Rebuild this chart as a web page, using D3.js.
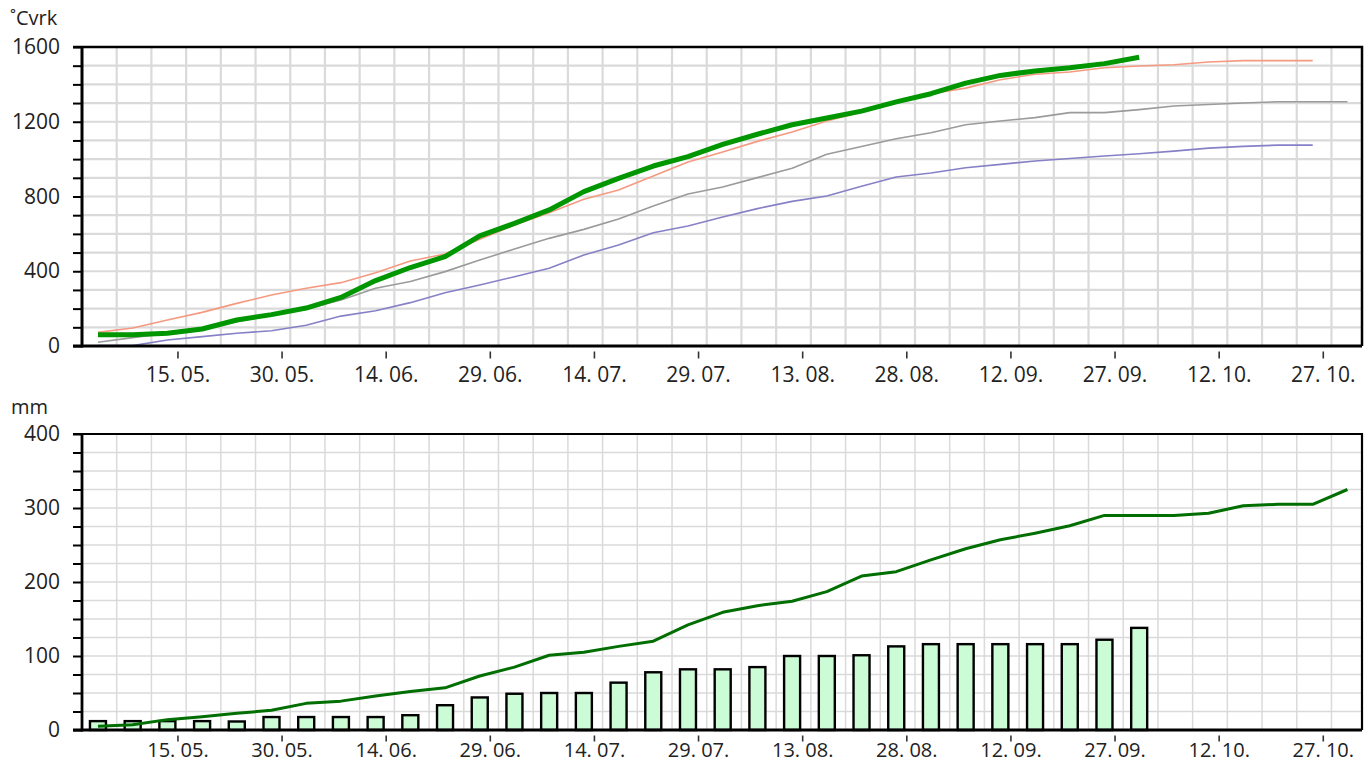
<!DOCTYPE html>
<html><head><meta charset="utf-8">
<script src="https://cdn.jsdelivr.net/npm/d3@7"></script>
<style>
body{margin:0;background:#fff;}
svg{display:block;}
text{font-family:"Open Sans",sans-serif;fill:#222;}
</style>
</head><body>
<svg id="c" width="1367" height="764"></svg>
<script>
// ---------- data (5‑day periods starting at season start) ----------
const gddCurrent = [60, 60, 68, 91, 139, 168, 203, 260, 350, 420, 478, 589, 656, 728, 826, 897, 963, 1013, 1079, 1133, 1184, 1220, 1257, 1306, 1350, 1407, 1448, 1472, 1489, 1511, 1545];
const gddWarm    = [73, 96, 139, 180, 228, 273, 309, 339, 392, 455, 492, 571, 647, 713, 785, 835, 910, 985, 1038, 1095, 1145, 1204, 1252, 1309, 1350, 1380, 1425, 1454, 1466, 1489, 1498, 1505, 1520, 1527, 1527, 1527];
const gddMean    = [20, 45, 68, 89, 130, 166, 198, 246, 309, 345, 398, 460, 519, 576, 624, 680, 749, 813, 851, 901, 951, 1026, 1068, 1109, 1141, 1184, 1204, 1222, 1249, 1249, 1265, 1284, 1292, 1300, 1307, 1307, 1307];
const gddCold    = [2, 2, 32, 50, 68, 82, 111, 160, 189, 232, 285, 326, 371, 416, 487, 540, 606, 642, 690, 735, 774, 803, 855, 904, 926, 954, 972, 990, 1003, 1017, 1029, 1043, 1059, 1068, 1075, 1075];
const precipBars = [12, 12, 12, 12, 11.5, 17.5, 17.5, 17.5, 17.5, 20, 33.5, 44, 49, 50, 50, 64, 78, 82, 82, 85, 100, 100, 101, 113, 116, 116, 116, 116, 116, 122, 138];
const precipLine = [5, 7, 14, 18, 22.5, 26.6, 36, 39, 46, 52, 57, 73, 85, 101, 105, 113, 120, 142, 159, 168, 174, 187, 208, 214, 230, 245, 257, 266, 276, 290, 290, 290, 293, 303, 305, 305, 325];
const tickDates  = ["2023-05-15","2023-05-30","2023-06-14","2023-06-29","2023-07-14","2023-07-29","2023-08-13","2023-08-28","2023-09-12","2023-09-27","2023-10-12","2023-10-27"];
const tickLabels = ["15. 05.","30. 05.","14. 06.","29. 06.","14. 07.","29. 07.","13. 08.","28. 08.","12. 09.","27. 09.","12. 10.","27. 10."];
const topYTicks = [0, 400, 800, 1200, 1600];
const botYTicks = [0, 100, 200, 300, 400];

(function () {
// ---------- setup ----------
const DAY = 864e5;
const start = new Date(Date.UTC(2023, 4, 1, 6));
const end = new Date(+start + 184.4 * DAY);
const pointDate = i => new Date(+start + (2.3 + 5 * i) * DAY);
const gridDates = d3.range(5, 184.4, 5).map(d => new Date(+start + d * DAY));

const svg = d3.select("#c");
const L = 82, R = 1362;
const x = d3.scaleUtc().domain([start, end]).range([L, R]);

function panel(cfg) {
  const y = d3.scaleLinear().domain([0, cfg.max]).range([cfg.bottom, cfg.top]);
  const g = svg.append("g");
  g.append("g").selectAll("line").data(d3.range(cfg.minor, cfg.max, cfg.minor)).join("line")
    .attr("x1", L).attr("x2", R).attr("y1", d => y(d)).attr("y2", d => y(d))
    .attr("stroke", "#dadada").attr("stroke-width", cfg.gw);
  g.append("g").selectAll("line").data(gridDates).join("line")
    .attr("x1", d => x(d)).attr("x2", d => x(d)).attr("y1", cfg.top).attr("y2", cfg.bottom)
    .attr("stroke", "#dadada").attr("stroke-width", cfg.gw);
  const ya = d3.axisLeft(y).tickValues(d3.range(0, cfg.max + 1, cfg.minor))
    .tickFormat(d => cfg.labels.includes(d) ? d : "").tickSize(9).tickPadding(13);
  const yg = g.append("g").attr("transform", `translate(${L},0)`).call(ya);
  yg.select(".domain").remove();
  yg.selectAll(".tick line").attr("stroke", "#000").attr("stroke-width", 2);
  yg.selectAll("text").attr("font-size", 21).attr("fill", "#222").style("font-family", '"Open Sans",sans-serif');
  const xa = d3.axisBottom(x).tickValues(tickDates.map(s => new Date(s + "T00:00:00Z")))
    .tickFormat((d, i) => tickLabels[i]).tickSize(cfg.xts).tickPadding(cfg.xtp);
  const xg = g.append("g").attr("transform", `translate(0,${cfg.bottom + 5.5})`).call(xa);
  xg.select(".domain").remove();
  xg.selectAll(".tick line").attr("stroke", "#333").attr("stroke-width", 1.6);
  xg.selectAll("text").attr("font-size", cfg.xfs).attr("fill", "#222").style("font-family", '"Open Sans",sans-serif');
  g.append("text").attr("x", cfg.ux).attr("y", cfg.uy).attr("font-size", 20).text(cfg.unit);
  return {g, y};
}

// ---------- top panel ----------
const tp = panel({max: 1600, minor: 100, labels: topYTicks, top: 47, bottom: 346, gw: 2.2, xts: 7, xtp: 9, xfs: 21, unit: "˚Cvrk", ux: 10, uy: 25});
const lineTop = d3.line().x((d, i) => x(pointDate(i))).y(d => tp.y(d));
[[gddCold, "#8680c6", 1.6], [gddMean, "#9b9b9b", 1.6], [gddWarm, "#f59a80", 1.6], [gddCurrent, "#009600", 5]].forEach(([data, col, w]) => {
  tp.g.append("path").datum(data).attr("d", lineTop).attr("fill", "none")
    .attr("stroke", col).attr("stroke-width", w).attr("stroke-linejoin", "round");
});
tp.g.append("path").attr("d", `M${L - 9},${tp.y(1600)}H${R}V${tp.y(0)}`).attr("fill", "none").attr("stroke", "#000").attr("stroke-width", 2.5);
tp.g.append("line").attr("x1", L).attr("x2", L).attr("y1", 46).attr("y2", 347.5).attr("stroke", "#000").attr("stroke-width", 3);
tp.g.append("line").attr("x1", L - 9).attr("x2", R).attr("y1", tp.y(0)).attr("y2", tp.y(0)).attr("stroke", "#000").attr("stroke-width", 3);

// ---------- bottom panel ----------
const bp = panel({max: 400, minor: 25, labels: botYTicks, top: 434, bottom: 730, gw: 1.5, xts: 6, xtp: 1.5, xfs: 20, unit: "mm", ux: 11, uy: 414});
const bw = 16;
bp.g.append("g").selectAll("rect").data(precipBars).join("rect")
  .attr("x", (d, i) => x(pointDate(i)) - bw / 2).attr("width", bw)
  .attr("y", d => bp.y(d)).attr("height", d => bp.y(0) - bp.y(d))
  .attr("fill", "#ccfcd6").attr("stroke", "#000").attr("stroke-width", 2.4);
const lineBot = d3.line().x((d, i) => x(pointDate(i))).y(d => bp.y(d));
bp.g.append("path").datum(precipLine).attr("d", lineBot).attr("fill", "none")
  .attr("stroke", "#006e00").attr("stroke-width", 3).attr("stroke-linejoin", "round");
bp.g.append("path").attr("d", `M${L - 9},${bp.y(400)}H${R}V${bp.y(0)}`).attr("fill", "none").attr("stroke", "#000").attr("stroke-width", 2.2);
bp.g.append("line").attr("x1", L).attr("x2", L).attr("y1", 433).attr("y2", 731.5).attr("stroke", "#000").attr("stroke-width", 2.8);
bp.g.append("line").attr("x1", L - 9).attr("x2", R).attr("y1", bp.y(0)).attr("y2", bp.y(0)).attr("stroke", "#000").attr("stroke-width", 2.8);
})();
</script>
</body></html>
